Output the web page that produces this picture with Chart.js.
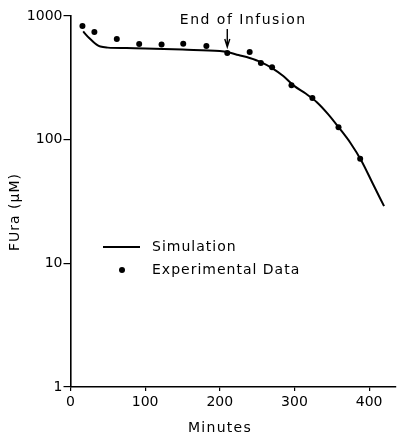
<!DOCTYPE html>
<html>
<head>
<meta charset="utf-8">
<script src="https://cdn.jsdelivr.net/npm/chart.js@4/dist/chart.umd.min.js"></script>
<style>
  html, body { margin: 0; padding: 0; background: #fff; }
  #wrap { width: 400px; height: 436px; position: relative; }
</style>
</head>
<body>
<div id="wrap"><canvas id="chart"></canvas></div>
<script>
// simulated FUra concentration (solid line)
var simMinutes = [17, 20, 25, 30, 35, 40, 50, 75, 100, 150, 200, 210, 225, 240, 255, 270, 285, 300, 315, 330, 345, 360, 375, 390, 405, 420];
var simValues  = [750, 714, 663, 621, 587, 566, 555, 550, 547, 535, 520, 511, 483, 457, 424, 379, 327, 271, 236, 201, 161, 124, 94, 67, 44, 29];

// measured points (dots)
var expMinutes = [16, 32, 62, 92, 122, 151, 182, 210, 240, 255, 270, 296, 324, 359, 388];
var expValues  = [829, 741, 651, 593, 588, 597, 571, 501, 511, 416, 386, 276, 217, 126, 70];

var xTicks = [0, 100, 200, 300, 400];
var yTicks = [1, 10, 100, 1000];
var infusionEnd = 210;
var infusionLabel = 'End of Infusion';

function toPoints(xs, ys) {
  return xs.map(function (x, i) { return { x: x, y: ys[i] }; });
}

var FONT = '"DejaVu Sans", sans-serif';

function spacedText(ctx, text, x, y, spacing) {
  if ('letterSpacing' in ctx) {
    ctx.letterSpacing = spacing + 'px';
  }
  ctx.fillText(text, x, y);
  if ('letterSpacing' in ctx) {
    ctx.letterSpacing = '0px';
  }
}

var decor = {
  id: 'decor',
  afterDraw: function (chart) {
    var ctx = chart.ctx;
    var xs = chart.scales.x;
    ctx.save();
    ctx.fillStyle = '#000';
    ctx.strokeStyle = '#000';
    ctx.font = '14px ' + FONT;
    ctx.textBaseline = 'middle';

    // y title
    ctx.save();
    ctx.translate(15, 212);
    ctx.rotate(-Math.PI / 2);
    ctx.textAlign = 'center';
    spacedText(ctx, 'FUra (\u03bcM)', 0, 0, 1);
    ctx.restore();

    // x title
    ctx.textAlign = 'center';
    spacedText(ctx, 'Minutes', 220, 428, 1.3);

    // end of infusion marker
    var ax = xs.getPixelForValue(infusionEnd);
    spacedText(ctx, infusionLabel, ax + 16, 20, 1.5);
    ctx.lineWidth = 1.4;
    ctx.beginPath();
    ctx.moveTo(ax, 29);
    ctx.lineTo(ax, 47);
    ctx.moveTo(ax - 2.5, 39);
    ctx.lineTo(ax, 47);
    ctx.lineTo(ax + 2.5, 39);
    ctx.stroke();

    // legend
    ctx.textAlign = 'left';
    ctx.lineWidth = 2;
    ctx.beginPath();
    ctx.moveTo(103, 247);
    ctx.lineTo(140, 247);
    ctx.stroke();
    spacedText(ctx, 'Simulation', 152, 247, 1);
    ctx.beginPath();
    ctx.arc(122, 270, 3, 0, Math.PI * 2);
    ctx.fill();
    spacedText(ctx, 'Experimental Data', 152, 270, 1);
    ctx.restore();
  }
};

var ctx = document.getElementById('chart').getContext('2d');
new Chart(ctx, {
  type: 'scatter',
  data: {
    datasets: [
      {
        label: 'Simulation',
        data: toPoints(simMinutes, simValues),
        showLine: true,
        borderColor: '#000',
        borderWidth: 2,
        pointRadius: 0,
        cubicInterpolationMode: 'monotone',
        fill: false
      },
      {
        label: 'Experimental Data',
        data: toPoints(expMinutes, expValues),
        showLine: false,
        pointRadius: 3,
        pointBackgroundColor: '#000',
        pointBorderWidth: 0
      }
    ]
  },
  options: {
    responsive: true,
    maintainAspectRatio: false,
    animation: false,
    layout: { padding: { top: 16, right: 0, left: 0, bottom: 0 } },
    plugins: {
      legend: { display: false },
      tooltip: { enabled: false }
    },
    scales: {
      x: {
        type: 'linear',
        min: 0,
        max: 436,
        afterBuildTicks: function (scale) {
          scale.ticks = xTicks.map(function (v) { return { value: v }; });
        },
        afterFit: function (scale) { scale.height = 49; },
        grid: { drawOnChartArea: false, color: '#000', tickLength: 4, lineWidth: 1.2 },
        border: { color: '#000', width: 1.6 },
        ticks: {
          color: '#000',
          font: { family: FONT, size: 14 },
          padding: 3,
          maxRotation: 0
        }
      },
      y: {
        type: 'logarithmic',
        min: 1,
        max: 1000,
        afterBuildTicks: function (scale) {
          scale.ticks = yTicks.map(function (v) { return { value: v }; });
        },
        afterFit: function (scale) { scale.width = 70.5; },
        grid: { drawOnChartArea: false, color: '#000', tickLength: 7, lineWidth: 1.2 },
        border: { color: '#000', width: 1.6 },
        ticks: {
          color: '#000',
          font: { family: FONT, size: 14 },
          padding: 1,
          callback: function (v) { return String(v); }
        }
      }
    }
  },
  plugins: [decor]
});
</script>
</body>
</html>
